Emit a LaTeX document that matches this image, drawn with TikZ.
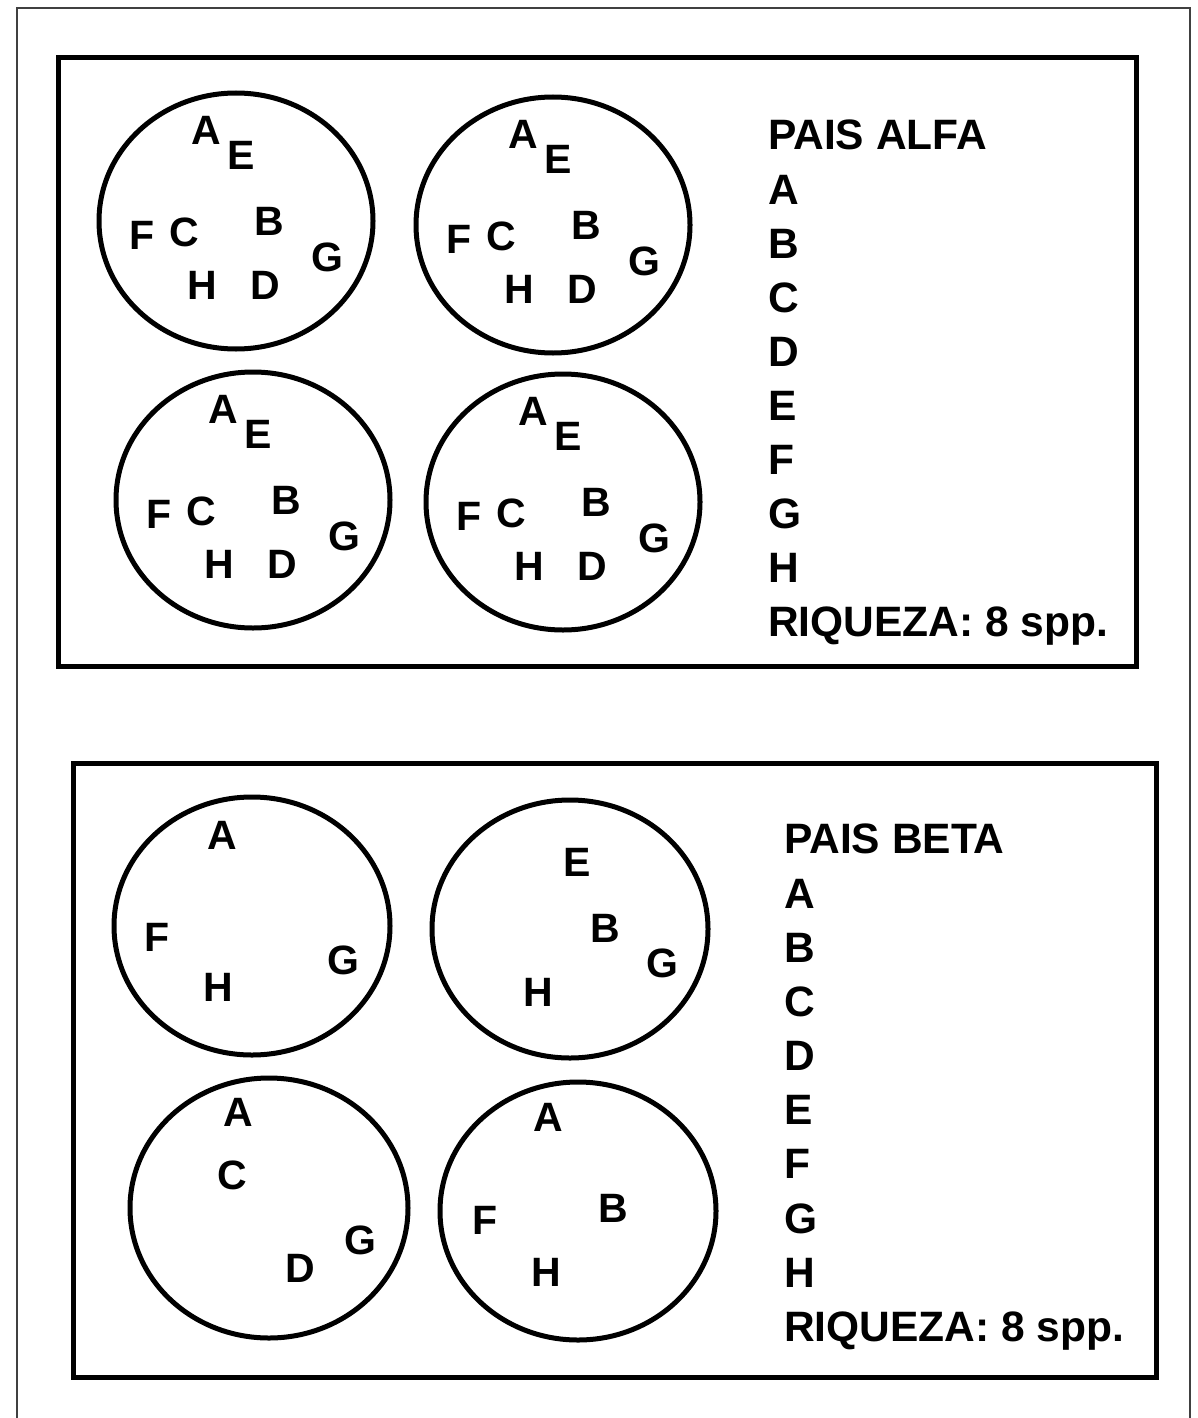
\documentclass[tikz,border=0pt]{standalone}
\usepackage{fontspec}
\setmainfont{Liberation Sans}
\tikzset{
  frame/.style={draw=black!75, line width=2pt},
  boxline/.style={draw=black, line width=5pt},
  plot/.style={draw=black, line width=5pt},
  sp/.style={font=\fontsize{41}{48}\selectfont\bfseries, inner sep=0pt, anchor=center},
  leg/.style={font=\fontsize{42.5}{48}\selectfont\bfseries, inner sep=0pt, anchor=west},
}
\newcommand{\fullplot}[3]{%
  \begin{scope}[shift={(#2,#3)}]
    \draw[plot] (0,0) ellipse [x radius=137, y radius=128];
    \node[sp] (#1A) at (-30,-91) {A};
    \node[sp] (#1E) at (5,-66) {E};
    \node[sp] (#1F) at (-94,14) {F};
    \node[sp] (#1C) at (-52,11) {C};
    \node[sp] (#1B) at (33,0) {B};
    \node[sp] (#1G) at (91,36) {G};
    \node[sp] (#1H) at (-34,64) {H};
    \node[sp] (#1D) at (29,64) {D};
  \end{scope}}
\begin{document}
\begin{tikzpicture}[x=1pt,y=-1pt]
\useasboundingbox (0,0) rectangle (1198,1418);
% outer frame (open at bottom)
\draw[frame] (17,1418) -- (17,8) -- (1190,8) -- (1190,1418);
% boxes
\draw[boxline] (58,58) rectangle (1136,666);
\draw[boxline] (73,763) rectangle (1156,1377);
% top: four identical plots
\fullplot{p1}{236}{221}
\fullplot{p2}{553}{225}
\fullplot{p3}{253}{500}
\fullplot{p4}{563}{502}
% legend alfa
\node[leg] (ta) at (768,135) {PAIS ALFA};
\node[leg] (taA) at (768,190) {A};
\node[leg] (taB) at (768,244) {B};
\node[leg] (taC) at (768,298) {C};
\node[leg] (taD) at (768,352) {D};
\node[leg] (taE) at (768,406) {E};
\node[leg] (taF) at (768,460) {F};
\node[leg] (taG) at (768,514) {G};
\node[leg] (taH) at (768,568) {H};
\node[leg] (taR) at (768,626) {RIQUEZA: 8 spp.};
% bottom plots
\draw[plot] (252,926) ellipse [x radius=138, y radius=129];
\node[sp] (q1A) at (222,835) {A};
\node[sp] (q1F) at (157,937) {F};
\node[sp] (q1H) at (218,987) {H};
\node[sp] (q1G) at (343,960) {G};
\draw[plot] (570,929) ellipse [x radius=138, y radius=129];
\node[sp] (q2E) at (577,862) {E};
\node[sp] (q2B) at (605,928) {B};
\node[sp] (q2G) at (662,963) {G};
\node[sp] (q2H) at (538,992) {H};
\draw[plot] (269,1208) ellipse [x radius=139, y radius=130];
\node[sp] (q3A) at (238,1112) {A};
\node[sp] (q3C) at (232,1175) {C};
\node[sp] (q3D) at (300,1268) {D};
\node[sp] (q3G) at (360,1240) {G};
\draw[plot] (578,1211) ellipse [x radius=138, y radius=129];
\node[sp] (q4A) at (548,1117) {A};
\node[sp] (q4F) at (485,1220) {F};
\node[sp] (q4B) at (613,1208) {B};
\node[sp] (q4H) at (546,1272) {H};
% legend beta
\node[leg] (tb) at (784,839) {PAIS BETA};
\node[leg] (tbA) at (784,894) {A};
\node[leg] (tbB) at (784,948) {B};
\node[leg] (tbC) at (784,1002) {C};
\node[leg] (tbD) at (784,1056) {D};
\node[leg] (tbE) at (784,1110) {E};
\node[leg] (tbF) at (784,1164) {F};
\node[leg] (tbG) at (784,1219) {G};
\node[leg] (tbH) at (784,1273) {H};
\node[leg] (tbR) at (784,1331) {RIQUEZA: 8 spp.};
\end{tikzpicture}
\end{document}
